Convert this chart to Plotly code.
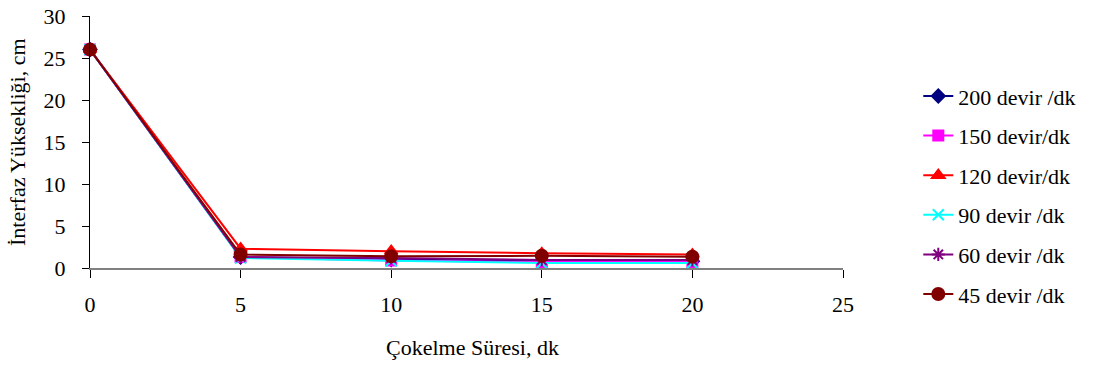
import plotly.graph_objects as go

# Settling time (min)
sure = [0, 5, 10, 15, 20]

# Interface height (cm) for each stirring speed
h_200 = [26.0, 1.3, 1.0, 0.8, 0.8]
h_150 = [26.0, 1.3, 0.9, 0.7, 0.7]
h_120 = [26.0, 2.3, 2.0, 1.75, 1.6]
h_90 = [26.0, 1.2, 0.85, 0.6, 0.6]
h_60 = [26.0, 1.3, 1.2, 0.95, 0.95]
h_45 = [26.0, 1.6, 1.4, 1.45, 1.35]

names = ["200 devir /dk", "150 devir/dk", "120 devir/dk", "90 devir /dk", "60 devir /dk", "45 devir /dk"]
series = [h_200, h_150, h_120, h_90, h_60, h_45]
colors = ["#000080", "#FF00FF", "#FF0000", "#00FFFF", "#800080", "#800000"]
symbols = ["diamond", "square", "triangle-up", "x-thin-open", "asterisk-open", "circle"]
sizes = [10, 10, 11, 11, 11, 12]

FONT = "Liberation Serif, Times New Roman, serif"
FS = 22

fig = go.Figure()
for i, (nm, ys, c, sym, sz) in enumerate(zip(names, series, colors, symbols, sizes)):
    fig.add_trace(go.Scatter(
        x=sure, y=ys, name=nm, mode="lines+markers",
        legendgroup=f"g{i}",
        line=dict(color=c, width=2),
        marker=dict(symbol=sym, size=sz, color=c, line=dict(color=c, width=2)),
        cliponaxis=False,
    ))

fig.update_layout(
    width=1097, height=368,
    margin=dict(l=90, r=254, t=16, b=100, autoexpand=False),
    paper_bgcolor="white", plot_bgcolor="white",
    font=dict(family=FONT, size=FS, color="black"),
    showlegend=True,
    legend=dict(x=1.10, y=0.765, xanchor="left", yanchor="top",
                font=dict(family=FONT, size=FS),
                tracegroupgap=8, bgcolor="rgba(0,0,0,0)"),
    xaxis=dict(range=[0, 25], tickvals=[0, 5, 10, 15, 20, 25],
               showgrid=False, zeroline=False, automargin=False,
               showline=True, linecolor="#808080", linewidth=2,
               ticks="outside", ticklen=8, tickcolor="black", tickwidth=1,
               ticklabelstandoff=8),
    yaxis=dict(range=[0, 30], tickvals=[0, 5, 10, 15, 20, 25, 30],
               showgrid=False, zeroline=False, automargin=False,
               showline=True, linecolor="black", linewidth=1,
               ticks="outside", ticklen=7, tickcolor="black",
               ticklabelstandoff=12),
    annotations=[
        dict(text="Çokelme Süresi, dk", xref="paper", yref="paper",
             x=0.508, y=-0.317, xanchor="center", yanchor="middle",
             showarrow=False, font=dict(family=FONT, size=FS)),
        dict(text="İnterfaz Yüksekliği, cm", xref="paper", yref="paper",
             x=-0.097, y=0.5, xanchor="center", yanchor="middle",
             textangle=-90, showarrow=False, font=dict(family=FONT, size=FS)),
    ],
)

fig.write_html("out.html")
